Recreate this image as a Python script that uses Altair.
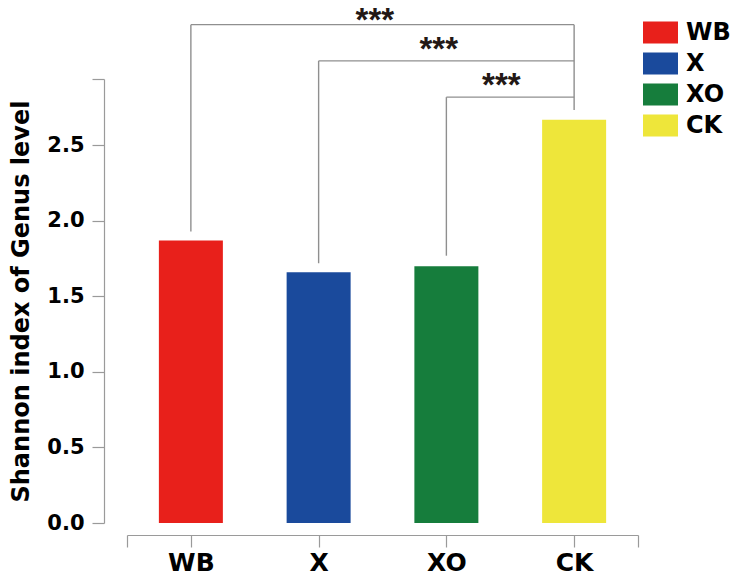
import json
import altair as alt
import pandas as pd

# ---- data ----
groups = ["WB", "X", "XO", "CK"]
shannon = [1.87, 1.66, 1.70, 2.67]
bar_colors = ["#E8201B", "#1A4A9C", "#167D3C", "#EEE63A"]

# significance brackets (each compares a group to CK)
br_left = [0, 1, 2]          # index of the left group
br_right = [3, 3, 3]         # CK
br_level = [3.30, 3.06, 2.82]
br_left_bottom = [1.93, 1.72, 1.77]
ck_bottom = 2.735
star_x = [1.44, 1.94, 2.43]
star_y = [3.35, 3.16, 2.92]
star_text = ["***", "***", "***"]

y_ticks = [0.0, 0.5, 1.0, 1.5, 2.0, 2.5]
y_top = 2.94

FONT = "DejaVu Sans"
STAR_FONT = "Liberation Sans"
GREY = "#9a9a9a"

bars_df = pd.DataFrame({"idx": list(range(len(groups))), "group": groups, "value": shannon})
hl_df = pd.DataFrame({"x": br_left, "x2": br_right, "y": br_level})
vl_df = pd.DataFrame({
    "x": br_left + [3],
    "y": br_left_bottom + [ck_bottom],
    "y2": br_level + [max(br_level)],
})
star_df = pd.DataFrame({"x": star_x, "y": star_y, "t": star_text})

label_arr = json.dumps(groups)
x_scale = alt.Scale(domain=[-0.5, len(groups) - 0.5], nice=False, zero=False, padding=0)
y_scale = alt.Scale(domain=[0, y_top], nice=False, padding=0)

x_axis = alt.Axis(
    values=[-0.5] + list(range(len(groups))) + [len(groups) - 0.5],
    labelExpr=f"(datum.value >= 0 && datum.value % 1 == 0) ? {label_arr}[datum.value] : ''",
    labelOverlap=False, labelFlush=False, title=None, grid=False,
    offset=12, tickSize=12, tickColor=GREY, domainColor=GREY, tickWidth=1.2, domainWidth=1.2,
    labelFont=FONT, labelFontSize=25, labelFontWeight="bold", labelColor="black", labelPadding=3,
)
y_axis = alt.Axis(
    values=y_ticks + [y_top],
    labelExpr=f"datum.value > {y_ticks[-1] + 0.1} ? '' : format(datum.value, '.1f')",
    title="Shannon index of Genus level", grid=False,
    offset=23, tickSize=12, tickColor=GREY, domainColor=GREY, tickWidth=1.2, domainWidth=1.2,
    labelFont=FONT, labelFontSize=21, labelFontWeight="bold", labelColor="black", labelPadding=8,
    titleFont=FONT, titleFontSize=24, titleFontWeight="bold", titleColor="black", titlePadding=13,
)

legend = alt.Legend(
    title=None, orient="none", legendX=516, legendY=-64, padding=0,
    symbolType="M-1,-0.63H1V0.63H-1Z", symbolSize=1225, symbolStrokeWidth=0, symbolOpacity=1,
    labelFont=FONT, labelFontSize=24, labelFontWeight="bold", labelColor="black",
    labelOffset=8, rowPadding=1,
)

bars = alt.Chart(bars_df).mark_bar(size=64).encode(
    x=alt.X("idx:Q", scale=x_scale, axis=x_axis),
    y=alt.Y("value:Q", scale=y_scale, axis=y_axis),
    color=alt.Color("group:N", scale=alt.Scale(domain=groups, range=bar_colors), legend=legend, sort=groups),
)

hlines = alt.Chart(hl_df).mark_rule(color="#8f8f8f", strokeWidth=1.4).encode(
    x=alt.X("x:Q", scale=x_scale), x2="x2:Q", y=alt.Y("y:Q", scale=y_scale)
)
vlines = alt.Chart(vl_df).mark_rule(color="#8f8f8f", strokeWidth=1.4).encode(
    x=alt.X("x:Q", scale=x_scale), y=alt.Y("y:Q", scale=y_scale), y2="y2:Q"
)
stars = alt.Chart(star_df).mark_text(
    font=STAR_FONT, fontSize=33, fontWeight="bold", color="#231815", baseline="alphabetic", dy=14
).encode(x=alt.X("x:Q", scale=x_scale), y=alt.Y("y:Q", scale=y_scale), text="t:N")

chart = alt.layer(bars, hlines, vlines, stars).properties(
    width=511, height=444,
    padding={"left": 119, "top": 71, "right": 93, "bottom": 54},
    autosize=alt.AutoSizeParams(type="none"),
).configure_view(stroke=None)

chart.save("out.html", embed_options={"renderer": "svg", "actions": False})
